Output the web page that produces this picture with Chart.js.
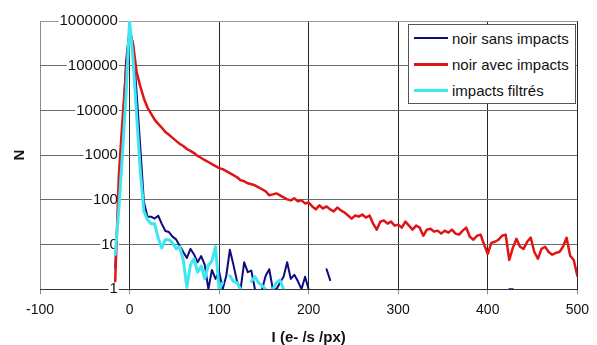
<!DOCTYPE html>
<html>
<head>
<meta charset="utf-8">
<script src="https://cdn.jsdelivr.net/npm/chart.js@4.4.0/dist/chart.umd.min.js"></script>
<style>
  body { margin: 0; background: #fff; }
  #wrap { position: relative; width: 597px; height: 345px; }
  #legend {
    position: absolute; left: 408px; top: 24px; width: 166px; height: 78px;
    border: 1px solid #555; background: #fff;
    font: 15px 'Liberation Sans', Arial, sans-serif; color: #111;
  }
  #legend .row { height: 26px; display: flex; align-items: center; padding-left: 5px; }
  #legend .sw { display: inline-block; width: 34px; margin-right: 4px; }
</style>
</head>
<body>
<div id="wrap">
  <canvas id="histChart" width="597" height="345"></canvas>
  <div id="legend"></div>
</div>
<script>
// intensity bins (e-/s/px)
const intensity = [
  -16, -12, -8, -4, 0, 4, 8, 12, 16, 20,
  24, 28, 32, 36, 40, 44, 48, 52, 56, 60,
  64, 68, 72, 76, 80, 84, 88, 92, 96, 100,
  104, 108, 112, 116, 120, 124, 128, 132, 136, 140,
  144, 148, 152, 156, 160, 164, 168, 172, 176, 180,
  184, 188, 192, 196, 200, 204, 208, 212, 216, 220,
  224, 228, 232, 236, 240, 244, 248, 252, 256, 260,
  264, 268, 272, 276, 280, 284, 288, 292, 296, 300,
  304, 308, 312, 316, 320, 324, 328, 332, 336, 340,
  344, 348, 352, 356, 360, 364, 368, 372, 376, 380,
  384, 388, 392, 396, 400, 404, 408, 412, 416, 420,
  424, 428, 432, 436, 440, 444, 448, 452, 456, 460,
  464, 468, 472, 476, 480, 484, 488, 492, 496, 500
];

const noirSansImpacts = [
  3, 150, 3000, 120000, 650000, 307000, 23000, 1500, 90, 42,
  42, 38, 44, 29, 20, 19, 15, 13, 9.4, 6.8,
  5, 8, 6, 4, 5.5, 3.5, 1, 2.7, 1.7, 2.5,
  1, 2, 7.6, 3.5, 1.5, 1, 4, 2.4, 2.6, 1,
  null, 1, 2, 2.8, 1, 1, 1.4, 1.9, 4, 1.7,
  2.1, 1.5, 1, 1.9, 1, null, null, null, null, 2.8,
  1.6, null, null, null, null, null, null, null, null, null,
  null, null, null, null, null, null, null, null, null, null,
  null, null, null, null, null, null, null, null, null, null,
  null, null, null, null, null, null, null, null, null, null,
  null, null, null, null, null, null, null, null, null, null,
  1, 1
];

const noirAvecImpacts = [
  1.5, 340, 5600, 70000, 630000, 290000, 71000, 34500, 18500, 11600,
  8500, 6200, 5000, 4100, 3300, 2840, 2430, 2080, 1780, 1600,
  1370, 1240, 1110, 955, 860, 775, 700, 630, 567, 512,
  486, 438, 394, 356, 320, 274, 260, 234, 223, 211,
  190, 172, 155, 126, 132, 139, 126, 113, 102, 97,
  108, 92, 97, 83, 87, 71, 61, 75, 64, 71,
  61, 55, 67, 58, 52, 44.5, 38, 44.5, 42, 47,
  40, 44.5, 29.3, 21.5, 32.5, 34.3, 29.3, 32.5, 26.4, 27.9,
  23.8, 32.5, 26.4, 21.5, 26.4, 23.8, 15.7, 21.5, 22.6, 19.4,
  20.4, 17.5, 20.4, 18.4, 21.5, 17.5, 16.6, 20.4, 23.8, 14.9,
  12.8, 15.7, 16.6, 9.8, 6.2, 10.9, 11.5, 12.8, 15.7, 16.6,
  4.5, 8.4, 13.4, 8.9, 8.0, 11.5, 14.2, 6.8, 4.8, 8.0,
  8.9, 6.8, 5.9, 6.5, 6.8, 8.9, 14.2, 5.6, 4.5, 2.0
];

const impactsFiltres = [
  6, 60, 1000, 20000, 1000000, 133000, 7200, 440, 55, 36,
  29, 29, 14, 8.4, 12.8, 12.8, 10.9, 8, 8.9, 4.5,
  1.1, 3.5, 4.8, 2.4, 3.3, 1.7, 3.5, 4.3, 8.9, 1,
  1.4, null, 2, 1.5, 1.4, 1, null, null, 1.5, 1.9,
  1.4, 1.2, 1, null, 1, 1.4, 1.6, 1
];

const seriesNames = ['noir sans impacts', 'noir avec impacts', 'impacts filtrés'];
const xTicks = [-100, 0, 100, 200, 300, 400, 500];
const yTicks = [1, 10, 100, 1000, 10000, 100000, 1000000];

const FONT = "'Liberation Sans', Arial, sans-serif";
const seriesStyle = [
  { values: noirSansImpacts, color: '#0c0c80', width: 2, order: 3 },
  { values: noirAvecImpacts, color: '#e01414', width: 2.5, order: 2 },
  { values: impactsFiltres, color: '#3de6f0', width: 3, order: 1 }
];

const toPoints = values => intensity.map((x, i) => ({ x: x, y: values[i] ?? null }));

const chart = new Chart(document.getElementById('histChart'), {
  type: 'line',
  data: {
    datasets: seriesStyle.map((s, i) => ({
      label: seriesNames[i],
      data: toPoints(s.values),
      borderColor: s.color,
      backgroundColor: s.color,
      borderWidth: s.width,
      order: s.order,
      yAxisID: 'y',
      xAxisID: 'x'
    }))
  },
  options: {
    responsive: false,
    animation: false,
    layout: { padding: { top: 21, right: 12, bottom: -2, left: 0 } },
    plugins: { legend: { display: false }, tooltip: { enabled: false } },
    elements: {
      point: { radius: 0 },
      line: { tension: 0, borderJoinStyle: 'round', borderCapStyle: 'round' }
    },
    scales: {
      x: {
        type: 'linear', min: -100, max: 500,
        afterBuildTicks: axis => { axis.ticks = xTicks.map(v => ({ value: v })); },
        grid: {
          color: ctx => (ctx.tick && ctx.tick.value === -100) ? '#8a8a8a' : '#262626',
          tickColor: '#8a8a8a', tickLength: 5
        },
        border: { color: '#333' },
        ticks: { color: '#111', font: { family: FONT, size: 14 }, padding: 8, maxRotation: 0 },
        title: {
          display: true, text: 'I (e- /s /px)', color: '#111',
          font: { family: FONT, size: 15, weight: 'bold' }, padding: { top: 2, bottom: 0 }
        }
      },
      y: {
        // labels sit just left of the x = 0 line, inside the plot
        type: 'logarithmic', position: { x: -13 }, min: 1, max: 1000000,
        afterBuildTicks: axis => { axis.ticks = yTicks.map(v => ({ value: v })); },
        grid: {
          color: ctx => (ctx.tick && ctx.tick.value === 1000000) ? '#9a9a9a' : '#6a6a6a',
          drawTicks: false
        },
        border: { display: false },
        ticks: {
          color: '#111', font: { family: FONT, size: 15 }, callback: v => String(v),
          showLabelBackdrop: true, backdropColor: '#fff', backdropPadding: 1
        }
      },
      yTitle: {
        type: 'linear', position: 'left', min: 0, max: 1,
        grid: { display: false, drawTicks: false },
        border: { display: false },
        ticks: { display: false },
        title: {
          display: true, text: 'N', color: '#111',
          font: { family: FONT, size: 15, weight: 'bold' }, padding: { top: 11, bottom: 11 }
        }
      }
    }
  }
});

// legend box drawn over the plot like the original
const legendEl = document.getElementById('legend');
chart.data.datasets.forEach((ds, i) => {
  const row = document.createElement('div');
  row.className = 'row';
  const sw = document.createElement('span');
  sw.className = 'sw';
  sw.style.background = ds.borderColor;
  sw.style.height = Math.round(ds.borderWidth) + 'px';
  row.appendChild(sw);
  row.appendChild(document.createTextNode(seriesNames[i]));
  legendEl.appendChild(row);
});
</script>
</body>
</html>
